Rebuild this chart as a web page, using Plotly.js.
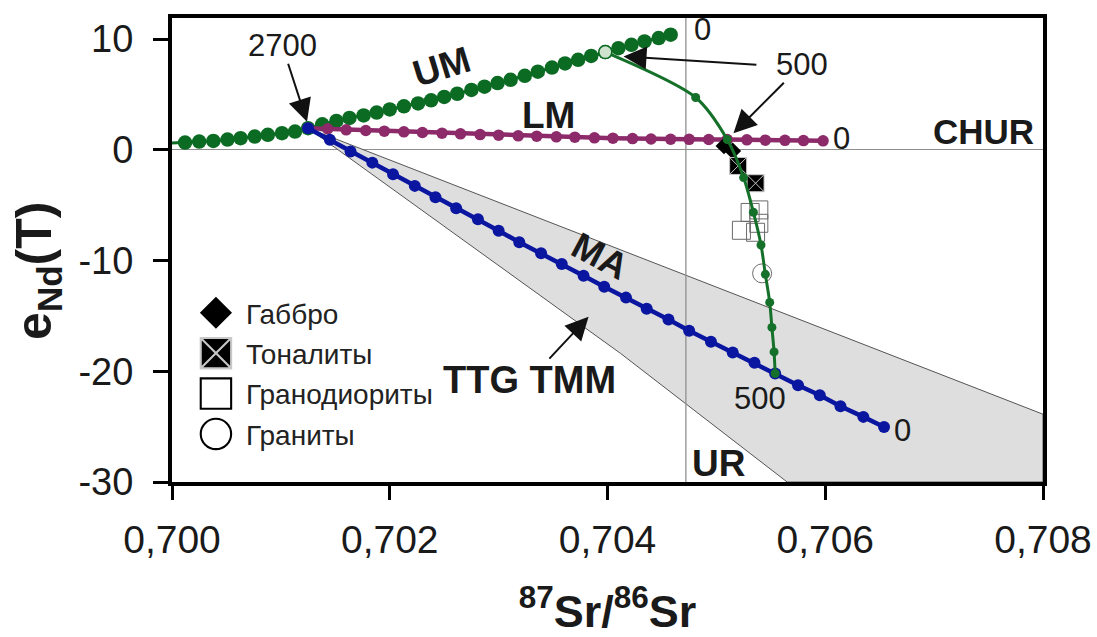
<!DOCTYPE html>
<html><head><meta charset="utf-8">
<script src="https://cdn.plot.ly/plotly-3.0.1.min.js"></script>
<style>html,body{margin:0;padding:0;background:#fff}#plot{width:1097px;height:637px}</style>
</head><body><div id="plot"></div>
<script>
// ---- data ----
const UM_x = [0.69988,0.70012,0.70025,0.70038,0.70051,0.70063,0.70076,0.70088,0.70101,0.70113,0.70125,
  0.70138,0.70151,0.70163,0.70176,0.70188,0.70200,0.70213,0.70226,0.70238,0.70250,0.70262,0.70275,0.70287,0.70299,
  0.70311,0.70324,0.70336,0.70349,0.70361,0.70373,0.70385,0.70398,0.70410,0.70422,0.70434,0.70447,0.70458];
const UM_y = [0.55,0.65,0.74,0.80,0.92,1.05,1.19,1.35,1.50,1.65,1.95,
  2.30,2.60,2.88,3.10,3.36,3.64,3.93,4.18,4.47,4.77,5.06,5.40,5.70,6.02,
  6.32,6.68,7.05,7.42,7.80,8.12,8.47,8.82,9.17,9.48,9.78,10.09,10.39];
const UM_500 = 32; // index of the 500 Ma point on UM

const LM_x = [0.70125,0.70143,0.70160,0.70178,0.70195,0.70213,0.70230,0.70248,0.70265,0.70283,0.70300,0.70318,0.70335,0.70353,
  0.70370,0.70388,0.70405,0.70423,0.70440,0.70458,0.70475,0.70493,0.70510,0.70528,0.70545,0.70563,0.70580,0.70598];
const LM_y = [1.95,1.89,1.80,1.74,1.68,1.62,1.56,1.50,1.44,1.37,1.32,1.26,1.23,1.17,
  1.14,1.08,1.05,1.01,0.97,0.95,0.94,0.93,0.92,0.90,0.87,0.85,0.83,0.81];

const MA_x = [0.70125,0.70145,0.70164,0.70184,0.70203,0.70223,0.70242,0.70261,0.70281,0.70300,0.70319,0.70339,0.70358,0.70378,
  0.70397,0.70417,0.70436,0.70456,0.70475,0.70495,0.70515,0.70535,0.70554,0.70575,0.70595,0.70614,0.70635,0.70654];
const MA_y = [1.95,0.90,-0.16,-1.16,-2.21,-3.26,-4.29,-5.28,-6.27,-7.31,-8.35,-9.35,-10.32,-11.37,
  -12.37,-13.35,-14.36,-15.32,-16.35,-17.34,-18.30,-19.24,-20.20,-21.26,-22.16,-23.16,-24.12,-25.03];

const MIX_x = [0.70398,0.70481,0.70510,0.70525,0.70534,0.70541,0.70545,0.70549,0.70551,0.70553,0.70554];
const MIX_y = [8.82,4.72,0.92,-2.51,-5.64,-8.60,-11.25,-13.78,-16.04,-18.25,-20.20];

const TTG_x = [0.70125,0.70800,0.70800,0.70565,0.70412,0.70125];
const TTG_y = [1.95,-23.88,-30.0,-30.0,-18.39,1.95];

const GAB_x = [0.70507,0.70515]; const GAB_y = [0.35,-0.10];
const TON_x = [0.70520,0.70536]; const TON_y = [-1.46,-3.02];
const GRD_x = [0.70531,0.70539,0.70539,0.70523,0.70536]; const GRD_y = [-5.66,-5.43,-6.64,-7.27,-7.45];
const GRN_x = [0.70542]; const GRN_y = [-11.16];

const UR = 0.70472;          // uniform reservoir 87Sr/86Sr
const X_RANGE = [0.700, 0.708];
const Y_RANGE = [-30, 11.9];
const Y_TICKS = [-30,-20,-10,0,10];
const Y_TICKTEXT = ['-30','-20','-10','0','10'];
const LEG = ['Габбро','Тоналиты','Гранодиориты','Граниты'];

// ---- styling ----
const F = 'Arial, "Liberation Sans", Helvetica, sans-serif';
const GREEN = '#0b6b23', PURPLE = '#8c2a6a', BLUE = '#0a16a0', INK = '#1a1a1a';

const traces = [
  {x: TTG_x, y: TTG_y, mode:'lines', fill:'toself', fillcolor:'#dedede', line:{color:'#555', width:1}, showlegend:false, hoverinfo:'skip'},
  {x:[UR,UR], y:Y_RANGE, mode:'lines', line:{color:'#8f8f8f', width:1.3}, showlegend:false, hoverinfo:'skip'},
  {x: UM_x, y: UM_y, mode:'lines+markers', line:{color:GREEN, width:3}, marker:{color:GREEN, size:14.5}, showlegend:false, name:'UM'},
  {x: LM_x, y: LM_y, mode:'lines+markers', line:{color:PURPLE, width:4.5}, marker:{color:PURPLE, size:11.5}, showlegend:false, name:'LM'},
  {x: MA_x, y: MA_y, mode:'lines+markers', line:{color:BLUE, width:4.5}, marker:{color:BLUE, size:12}, showlegend:false, name:'MA'},
  {x: GAB_x, y: GAB_y, mode:'markers', name:LEG[0], legendgroup:'a', marker:{symbol:'diamond', color:'#000', size:13, line:{width:0}}},
  {x: TON_x, y: TON_y, mode:'markers', name:LEG[1], legendgroup:'b', marker:{symbol:'square-x', color:'#000', size:17, line:{color:'#c8c8c8', width:1}}},
  {x: GRD_x, y: GRD_y, mode:'markers', name:LEG[2], legendgroup:'c', marker:{symbol:'square-open', color:'#6a6a6a', size:18, line:{width:1}}},
  {x: GRN_x, y: GRN_y, mode:'markers', name:LEG[3], legendgroup:'d', marker:{symbol:'circle-open', color:'#6a6a6a', size:19, line:{width:1}}},
  {x: MIX_x, y: MIX_y, mode:'lines+markers', line:{color:'#15702a', width:3, shape:'spline', smoothing:0.8}, marker:{color:'#15702a', size:9}, showlegend:false, name:'mix'},
  {x:[UM_x[UM_500]], y:[UM_y[UM_500]], mode:'markers', marker:{color:'#cfe3cf', size:13, line:{color:GREEN, width:1.5}}, showlegend:false, hoverinfo:'skip'}
];

const txt = (text, x, y, size, extra) => Object.assign({text, x, y, xref:'x', yref:'y', showarrow:false, font:{family:F, size, color:INK}}, extra||{});
// labelled arrow: text sits at (ax, ay), the arrow points to (x, y)
const arr = (text, size, x, y, ax, ay) => ({text, x, y, ax, ay, xref:'x', yref:'y', axref:'x', ayref:'y', showarrow:true,
  font:{family:F, size, color:INK}, arrowhead:2, arrowsize:2.3, arrowwidth:2, arrowcolor:'#111', standoff:0, borderpad:0});

const annotations = [
  arr('2700', 31, 0.70124, 2.52, 0.701013, 9.39),
  txt('<b>UM</b>', 0.702482, 7.50, 37, {textangle:-17}),
  txt('<b>LM</b>', 0.703455, 3.06, 37),
  txt('0', 0.70487, 10.85, 31),
  arr('500', 31, 0.705157, 1.50, 0.705785, 7.68),
  arr('', 12, 0.704147, 8.43, 0.705372, 7.68),
  txt('0', 0.706152, 0.99, 31),
  txt('<b>CHUR</b>', 0.707453, 1.65, 35),
  txt('<b>MA</b>', 0.703933, -9.66, 37, {textangle:28}),
  arr('<b>TTG TMM</b>', 38, 0.703826, -15.08, 0.703281, -20.8),
  txt('500', 0.705402, -22.5, 31),
  txt('0', 0.706713, -25.37, 31),
  txt('<b>UR</b>', 0.705019, -28.34, 37),
  // y-axis title, placed as in the reference (slightly below the axis centre)
  {text:'<b>e<sub>Nd</sub>(T)</b>', xref:'paper', yref:'paper', x:-0.1538, y:0.455, xanchor:'center', yanchor:'middle',
   textangle:-90, showarrow:false, font:{family:F, size:50, color:INK}}
];

const layout = {
  width:1097, height:637,
  margin:{l:172, r:54, t:18, b:155},
  paper_bgcolor:'#fff', plot_bgcolor:'#fff',
  font:{family:F, color:INK},
  separators:', ',
  showlegend:true,
  legend:{x:0.016, y:0.418, xanchor:'left', yanchor:'top', bgcolor:'rgba(0,0,0,0)', borderwidth:0,
    font:{family:F, size:28, color:'#222'}, itemwidth:50, traceorder:'grouped', tracegroupgap:1},
  xaxis:{range:X_RANGE, dtick:0.002, tick0:0.700, tickformat:'.3f', showgrid:false, zeroline:false,
    showline:true, linewidth:4, linecolor:'#000', mirror:true, ticks:'outside', ticklen:14, tickwidth:3, tickcolor:'#000',
    tickfont:{family:F, size:39, color:INK}, ticklabelstandoff:6,
    title:{text:'<b><sup>87</sup>Sr/<sup>86</sup>Sr</b>', font:{family:F, size:45, color:INK}, standoff:42}},
  yaxis:{range:Y_RANGE, tickvals:Y_TICKS, ticktext:Y_TICKTEXT, showgrid:false,
    zeroline:true, zerolinecolor:'#8f8f8f', zerolinewidth:1.3,
    showline:true, linewidth:4, linecolor:'#000', mirror:true, ticks:'outside', ticklen:15, tickwidth:3, tickcolor:'#000',
    tickfont:{family:F, size:38, color:INK}, ticklabelstandoff:12},
  annotations
};

Plotly.newPlot('plot', traces, layout, {displayModeBar:false, staticPlot:true}).then(() => {
  document.querySelectorAll('.legend .legendpoints path.scatterpts').forEach(p => {
    const t = p.getAttribute('transform') || '';
    p.setAttribute('transform', t + ' scale(1.9)');
    p.style.strokeWidth = '1.1px';
    if ((p.style.fill || '') === 'none' || p.style.fill === '') p.style.stroke = '#000';
  });
});
</script>
</body></html>
